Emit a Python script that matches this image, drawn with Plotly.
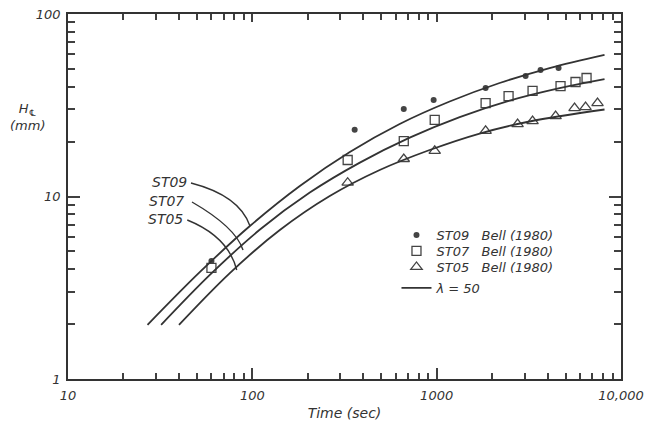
import plotly.graph_objects as go

# ---- data ----
# measured points (Bell 1980)
st09_t = [60, 359, 663, 963, 1843, 3038, 3661, 4585]
st09_h = [4.43, 23.2, 30.2, 33.8, 39.3, 45.7, 49.3, 50.6]

st07_t = [60, 329, 663, 976, 1843, 2455, 3313, 4699, 5666, 6503]
st07_h = [4.06, 15.85, 20.1, 26.3, 32.5, 35.5, 37.9, 40.3, 42.4, 44.6]

st05_t = [329, 663, 976, 1843, 2748, 3313, 4418, 5598, 6422, 7458]
st05_h = [11.9, 16.05, 17.8, 22.9, 24.9, 25.9, 27.6, 30.5, 30.9, 32.5]

# model curves (lambda = 50)
c09_t = [27, 52, 97, 181, 338, 630, 1176, 2195, 4097, 8141]
c09_h = [1.98, 3.86, 6.89, 11.42, 17.53, 24.97, 33.16, 41.87, 50.59, 59.76]

c07_t = [32, 59, 110, 205, 383, 714, 1333, 2487, 4642, 8141]
c07_h = [1.98, 3.73, 6.59, 10.51, 15.34, 21.02, 27.24, 33.54, 39.26, 43.99]

c05_t = [40, 76, 141, 263, 491, 916, 1711, 3192, 8141]
c05_h = [1.98, 3.83, 6.55, 10.06, 13.97, 17.98, 22.14, 25.76, 29.97]

x_tickvals = [10, 100, 1000, 10000]
x_ticktext = ["10", "100", "1000", "10,000"]
y_tickvals = [1, 10, 100]
y_ticktext = ["1", "10", "100"]
x_minor = [m * d for d in (10, 100, 1000) for m in range(2, 10)]
y_minor = [m * d for d in (1, 10) for m in range(2, 10)]

INK = "#333333"
TICK = "#404040"
FONT = "DejaVu Sans"
NB = "\u00a0"

fig = go.Figure()
fig.add_trace(go.Scatter(x=st09_t, y=st09_h, mode="markers", legend="legend",
    name=f"ST09{NB*3}Bell{NB}(1980)",
    marker=dict(symbol="circle", size=6, color="#444444", line=dict(width=0))))
fig.add_trace(go.Scatter(x=st07_t, y=st07_h, mode="markers", legend="legend2",
    name=f"ST07{NB*3}Bell{NB}(1980)",
    marker=dict(symbol="square-open", size=9, color="#444444", line=dict(width=1.3))))
fig.add_trace(go.Scatter(x=st05_t, y=st05_h, mode="markers", legend="legend3",
    name=f"ST05{NB*3}Bell{NB}(1980)",
    marker=dict(symbol="triangle-up-open", size=10, color="#444444", line=dict(width=1.3))))
for i, (tx, hy) in enumerate([(c09_t, c09_h), (c07_t, c07_h), (c05_t, c05_h)]):
    fig.add_trace(go.Scatter(x=tx, y=hy, mode="lines", legend="legend4",
        name="λ = 50", showlegend=(i == 0),
        line=dict(color=INK, width=1.8, shape="spline", smoothing=1.0)))

# invisible copy on the mirrored (top/right) axes so they get drawn with their ticks
fig.add_trace(go.Scatter(x=c09_t, y=c09_h, xaxis="x2", yaxis="y2", mode="lines",
    opacity=0, showlegend=False, hoverinfo="skip", line=dict(width=0)))

tickfont = dict(family=FONT, size=13, color=INK, style="italic")


def minor(vals, length):
    return dict(tickvals=vals, ticks="inside", ticklen=length, tickwidth=2,
                tickcolor=TICK, showgrid=False)


fig.update_layout(
    xaxis=dict(
        type="log", range=[1, 4],
        showline=True, linecolor=INK, linewidth=1.5, mirror=True,
        ticks="inside", ticklen=11, tickwidth=2, tickcolor=TICK,
        tickvals=x_tickvals, ticktext=x_ticktext, tickfont=tickfont,
        ticklabelstandoff=4, minor=minor(x_minor, 6),
        showgrid=False, zeroline=False,
        title=dict(text="Time (sec)", font=dict(family=FONT, size=14, color=INK, style="italic"), standoff=6),
    ),
    yaxis=dict(
        type="log", range=[0, 2],
        showline=True, linecolor=INK, linewidth=1.5, mirror=True,
        ticks="inside", ticklen=12, tickwidth=2, tickcolor=TICK,
        tickvals=y_tickvals, ticktext=y_ticktext, tickfont=tickfont,
        ticklabelstandoff=3, minor=minor(y_minor, 7),
        showgrid=False, zeroline=False,
    ),
    xaxis2=dict(
        type="log", range=[1, 4], overlaying="x", anchor="y2", side="top",
        showline=False, ticks="inside", ticklen=8, tickwidth=2, tickcolor=TICK,
        tickvals=x_tickvals, showticklabels=False, minor=minor(x_minor, 6),
        showgrid=False, zeroline=False,
    ),
    yaxis2=dict(
        type="log", range=[0, 2], overlaying="y", anchor="x2", side="right",
        showline=False, ticks="inside", ticklen=12, tickwidth=2, tickcolor=TICK,
        tickvals=y_tickvals, showticklabels=False, minor=minor(y_minor, 7),
        showgrid=False, zeroline=False,
    ),
)

lbl_font = dict(family=FONT, size=14, color=INK, style="italic")
for txt, x, y in [("ST09", 0.2188, 0.5397), ("ST07", 0.2134, 0.4877), ("ST05", 0.2116, 0.4384)]:
    fig.add_annotation(text=txt, x=x, y=y, xref="paper", yref="paper",
                       xanchor="right", yanchor="middle", showarrow=False, font=lbl_font)

for p0, c, p2 in [((0.2224, 0.5370), (0.3101, 0.5027), (0.3291, 0.4192)),
                  ((0.2242, 0.4849), (0.3034, 0.4156), (0.3165, 0.3534)),
                  ((0.2157, 0.4356), (0.2900, 0.3900), (0.3051, 0.2986))]:
    fig.add_shape(type="path", xref="paper", yref="paper",
                  path=f"M {p0[0]},{p0[1]} Q {c[0]},{c[1]} {p2[0]},{p2[1]}",
                  line=dict(color=INK, width=1.4))

fig.add_annotation(text="H<sub>℄</sub><br>(mm)", x=-0.074, y=0.718, xref="paper", yref="paper",
                   xanchor="center", yanchor="middle", showarrow=False,
                   font=dict(family=FONT, size=13, color=INK, style="italic"))

leg_font = dict(family=FONT, size=13, color=INK, style="italic")
def leg(y):
    return dict(x=0.594, y=y, xanchor="left", yanchor="middle",
                bgcolor="rgba(0,0,0,0)", borderwidth=0, font=leg_font, itemwidth=30)

fig.update_layout(
    width=654, height=424,
    margin=dict(l=68, r=33, t=14, b=45, autoexpand=False),
    paper_bgcolor="white", plot_bgcolor="white",
    font=dict(family=FONT, color=INK),
    showlegend=True,
    legend=leg(0.3945), legend2=leg(0.3507), legend3=leg(0.3068), legend4=leg(0.2493),
)

fig.write_html("out.html")
